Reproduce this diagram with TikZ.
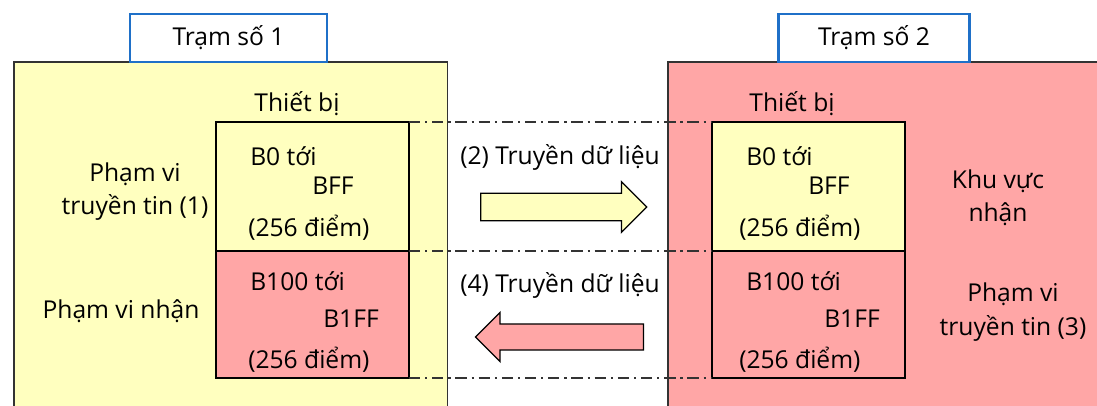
\documentclass[tikz,border=0pt]{standalone}
\usepackage{fontspec}
\setmainfont{Open Sans}
\usepackage{xcolor}
\usepackage{tikz}
\usetikzlibrary{positioning,calc,shapes.arrows}

\definecolor{vangnhat}{HTML}{FFFFBF}
\definecolor{hongnhat}{HTML}{FFA6A6}
\definecolor{xanhvien}{HTML}{1F70C8}
\definecolor{xamvien}{HTML}{333333}

\tikzset{
	chu/.style={font=\fontsize{17.5}{24}\selectfont, inner sep=0pt},
	tieude/.style={chu, draw=xanhvien, line width=1.8pt, fill=white, minimum height=1.2cm},
	onho/.style={draw=black, line width=1pt, minimum width=4.825cm, inner sep=0pt, outer sep=0pt},
	muiten/.style={single arrow, draw=black, line width=0.9pt, inner xsep=0pt, single arrow head extend=0.29cm},
	gachcham/.style={draw=xamvien, line width=1pt, dash pattern=on 8pt off 3.5pt on 1.5pt off 3.5pt}
}

\begin{document}
\begin{tikzpicture}[x=0.025cm,y=-0.025cm]
	\clip (0,0) rectangle (1097,406);
	\draw[xamvien, line width=1.3pt, fill=vangnhat] (14,62) rectangle (447.5,430);
	\draw[xamvien, line width=1.3pt, fill=hongnhat] (668,62) rectangle (1120,430);
	
	\node[tieude, minimum width=4.925cm] (tram1) at (228.5,38) {Trạm số 1};
	\node[tieude, minimum width=4.78cm] (tram2) at (874,38) {Trạm số 2};
	
	\node[onho, fill=vangnhat, minimum height=3.225cm] (tren1) at (312.5,186.5) {};
	\node[onho, fill=hongnhat, minimum height=3.175cm, below=0pt of tren1] (duoi1) {};
	\node[onho, fill=vangnhat, minimum height=3.225cm] (tren2) at (808.5,186.5) {};
	\node[onho, fill=hongnhat, minimum height=3.175cm, below=0pt of tren2] (duoi2) {};
	
	\draw[gachcham] (tren1.north east) -- (tren2.north west);
	\draw[gachcham] (tren1.south east) -- (tren2.south west);
	\draw[gachcham] (duoi1.south east) -- (duoi2.south west);
	
	\node[muiten, fill=vangnhat, minimum height=4.15cm, inner ysep=0.325cm] (ten2) at (557,207) {};
	\node[muiten, fill=hongnhat, minimum height=4.2cm, inner ysep=0.31cm, shape border rotate=180] (ten4) at (566,337) {};
	
	\node[chu, anchor=base] (thietbi1) at (297,112) {Thiết bị};
	\node[chu, anchor=base] (thietbi2) at (792,112) {Thiết bị};
	
	\node[chu, anchor=base west] (dau1) at (250,166) {B0 tới};
	\node[chu, anchor=base west] (cuoi1) at (312,195) {BFF};
	\node[chu, anchor=base west] (so1) at (248,237) {(256 điểm)};
	\node[chu, anchor=base west] (dau2) at (250,291) {B100 tới};
	\node[chu, anchor=base west] (cuoi2) at (323,327) {B1FF};
	\node[chu, anchor=base west] (so2) at (248,368) {(256 điểm)};
	
	\node[chu, anchor=base west] (dau3) at (746,166) {B0 tới};
	\node[chu, anchor=base west] (cuoi3) at (808,195) {BFF};
	\node[chu, anchor=base west] (so3) at (739,237) {(256 điểm)};
	\node[chu, anchor=base west] (dau4) at (746,291) {B100 tới};
	\node[chu, anchor=base west] (cuoi4) at (824,327) {B1FF};
	\node[chu, anchor=base west] (so4) at (739,368) {(256 điểm)};
	
	\node[chu, anchor=base] (nhan2) at (560,165) {(2) Truyền dữ liệu};
	\node[chu, anchor=base] (nhan4) at (560,292) {(4) Truyền dữ liệu};
	
	\node[chu, align=center, anchor=base] (pvtt1) at (135,215) {Phạm vi\\truyền tin (1)};
	\node[chu, anchor=base] (pvn1) at (121,318) {Phạm vi nhận};
	\node[chu, align=center, anchor=base] (kvn2) at (998,222) {Khu vực\\nhận};
	\node[chu, align=center, anchor=base] (pvtt3) at (1013,335) {Phạm vi\\truyền tin (3)};
\end{tikzpicture}
\end{document}
